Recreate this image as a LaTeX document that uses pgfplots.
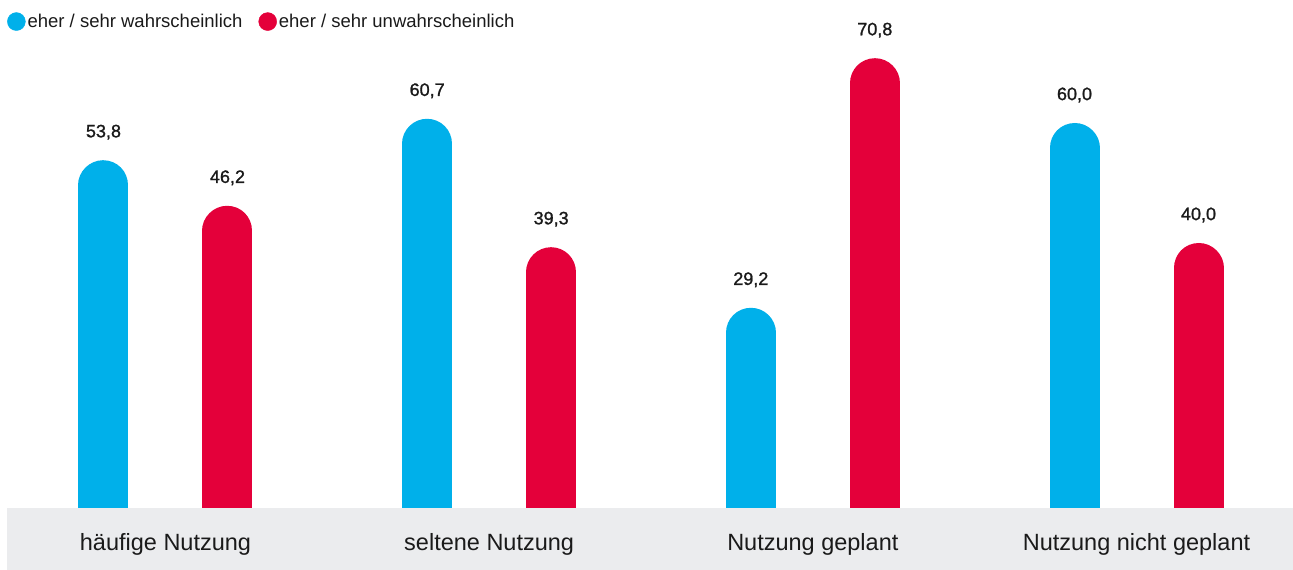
\documentclass[border=0pt]{standalone}
\usepackage{fontspec}
\setmainfont{Liberation Sans}
\newfontfamily\medfont{Liberation Sans}[FakeBold=1.2]
\usepackage{pgfplots}
\pgfplotsset{compat=1.18}
\definecolor{cblue}{HTML}{00B0EA}
\definecolor{cred}{HTML}{E4003A}
\definecolor{band}{HTML}{EBECEE}
\definecolor{txt}{HTML}{1A1A1A}

\begin{document}
\begin{tikzpicture}
\useasboundingbox (0pt,0pt) rectangle (1293pt,570pt);
\begin{axis}[
    axis on top,
    at={(0pt,0pt)}, anchor=south west,
    scale only axis, width=1293pt, height=512pt,
    xmin=-0.5113, xmax=3.4835,
    ymin=-10.333, ymax=75,
    axis line style={draw=none},
    ytick=\empty,
    xtick={0,1,2,3},
    xticklabels={häufige Nutzung, seltene Nutzung, Nutzung geplant, Nutzung nicht geplant},
    major tick length=0pt,
    xticklabel style={anchor=center, yshift=26pt, font=\fontsize{23.5}{28}\selectfont, text=txt},
    nodes near coords={\pgfmathprintnumber[fixed, fixed zerofill, precision=1, use comma, assume math mode=true]{\pgfplotspointmeta}},
    every node near coord/.append style={anchor=center, yshift=53pt, font=\medfont\fontsize{18}{22}\selectfont, text=txt},
    legend style={at={(0.0054,1.09)}, anchor=north west, draw=none, fill=none,
        inner sep=0pt, legend columns=2, font=\fontsize{18.5}{22}\selectfont, text=txt,
        /tikz/every even column/.append style={column sep=14pt}},
    legend image code/.code={\fill (4pt,0pt) circle (9pt);},
    legend cell align=left,
]
% Anteile in Prozent
\addplot[ycomb, cblue, line width=50pt, line cap=round, xshift=-62pt, forget plot]
  table[row sep=\\] {x y\\ 0 53.8\\ 1 60.7\\ 2 29.2\\ 3 60.0\\};
\addplot[ycomb, cred, line width=50pt, line cap=round, xshift=62pt, forget plot]
  table[row sep=\\] {x y\\ 0 46.2\\ 1 39.3\\ 2 70.8\\ 3 40.0\\};

% grauer Balken unten
\fill[band] (axis cs:-0.4897,-10.333) rectangle (axis cs:3.4835,0);

\addlegendimage{cblue}
\addlegendentry{eher / sehr wahrscheinlich}
\addlegendimage{cred}
\addlegendentry{eher / sehr unwahrscheinlich}
\end{axis}
\end{tikzpicture}
\end{document}
